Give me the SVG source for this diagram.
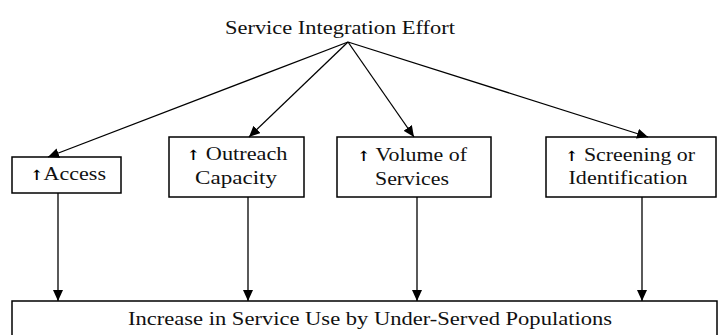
<svg xmlns="http://www.w3.org/2000/svg" width="719" height="335" viewBox="0 0 719 335">
<style>
.box{fill:#fff;stroke:#000;stroke-width:1.5}
.t{font-family:"Liberation Serif","Times New Roman",serif;font-size:19px;fill:#111;text-anchor:middle}
.u{font-family:"DejaVu Serif","DejaVu Sans",serif;font-size:14px;font-weight:bold;fill:#000}
.c{stroke:#000;stroke-width:1.3;fill:none;marker-end:url(#ah)}
</style>
<defs>
<marker id="ah" markerUnits="userSpaceOnUse" markerWidth="12" markerHeight="10" refX="11" refY="5" orient="auto">
<path d="M0,0 L11,5 L0,10 Z" fill="#000"/>
</marker>
</defs>
<rect width="719" height="335" fill="#fff"/>
<g id="title"><text class="t" x="340" y="34" textLength="230" lengthAdjust="spacingAndGlyphs">Service Integration Effort</text></g>
<g id="access"><rect class="box" x="12" y="157" width="109" height="36"/><text class="t" x="68" y="180" textLength="76" lengthAdjust="spacingAndGlyphs"><tspan class="u">↑</tspan>Access</text></g>
<g id="outreach"><rect class="box" x="169" y="137" width="135" height="60"/><text class="t" x="237" y="160" textLength="101" lengthAdjust="spacingAndGlyphs"><tspan class="u">↑</tspan> Outreach</text><text class="t" x="236" y="184" textLength="82" lengthAdjust="spacingAndGlyphs">Capacity</text></g>
<g id="volume"><rect class="box" x="337" y="137" width="154" height="60"/><text class="t" x="412" y="161" textLength="110" lengthAdjust="spacingAndGlyphs"><tspan class="u">↑</tspan> Volume of</text><text class="t" x="412" y="185" textLength="74" lengthAdjust="spacingAndGlyphs">Services</text></g>
<g id="screening"><rect class="box" x="546" y="137" width="170" height="60"/><text class="t" x="630" y="161" textLength="130" lengthAdjust="spacingAndGlyphs"><tspan class="u">↑</tspan> Screening or</text><text class="t" x="628" y="184" textLength="119" lengthAdjust="spacingAndGlyphs">Identification</text></g>
<g id="outcome"><rect class="box" x="12" y="301" width="705" height="45"/><text class="t" x="370" y="325" textLength="484" lengthAdjust="spacingAndGlyphs">Increase in Service Use by Under-Served Populations</text></g>
<g id="connectors">
<line class="c" x1="348" y1="42" x2="48" y2="157"/>
<line class="c" x1="348" y1="42" x2="249" y2="137"/>
<line class="c" x1="348" y1="42" x2="414" y2="137"/>
<line class="c" x1="348" y1="42" x2="648" y2="137"/>
<line class="c" x1="58" y1="193" x2="58" y2="301"/>
<line class="c" x1="248" y1="197" x2="248" y2="301"/>
<line class="c" x1="417" y1="197" x2="417" y2="301"/>
<line class="c" x1="642" y1="197" x2="642" y2="301"/>
</g>
</svg>
